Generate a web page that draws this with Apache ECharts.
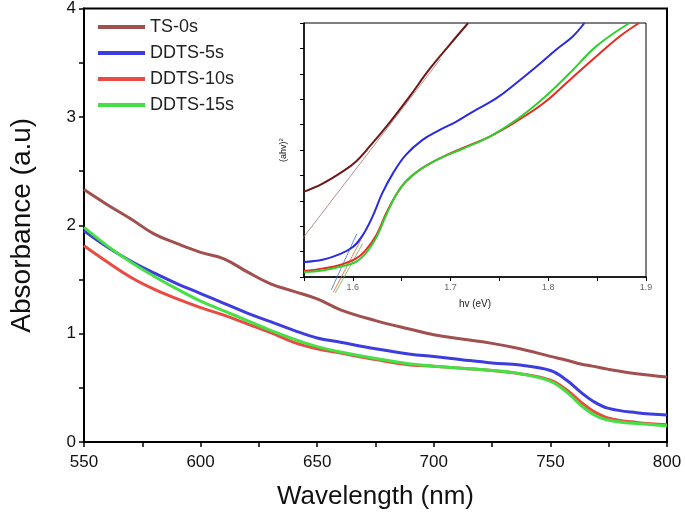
<!DOCTYPE html>
<html><head><meta charset="utf-8">
<script src="https://cdn.jsdelivr.net/npm/echarts@6/dist/echarts.min.js"></script>
<style>html,body{margin:0;padding:0;background:#fff}#c{width:685px;height:517px}</style>
</head><body><div id="c"></div>
<script>
// ---- main chart data ----
const wavelength = [550,560,570,580,590,600,610,620,630,640,650,660,675,690,700,712,725,737,750,757,763,768,775,787,800];
const ts0   = [2.33,2.19,2.06,1.92,1.83,1.75,1.69,1.57,1.46,1.39,1.32,1.22,1.12,1.04,0.99,0.95,0.91,0.86,0.79,0.755,0.72,0.70,0.67,0.63,0.60];
const ddts5 = [1.95,1.80,1.67,1.56,1.46,1.37,1.28,1.19,1.11,1.03,0.96,0.92,0.86,0.81,0.79,0.76,0.73,0.71,0.66,0.57,0.46,0.38,0.31,0.27,0.25];
const ddts10= [1.81,1.66,1.52,1.41,1.32,1.24,1.17,1.09,1.01,0.92,0.86,0.82,0.76,0.71,0.70,0.68,0.66,0.63,0.57,0.48,0.37,0.29,0.22,0.18,0.16];
const ddts15= [1.98,1.81,1.66,1.53,1.41,1.30,1.21,1.12,1.03,0.95,0.88,0.83,0.77,0.72,0.70,0.68,0.66,0.63,0.56,0.46,0.34,0.26,0.20,0.17,0.15];
const seriesNames = ['TS-0s','DDTS-5s','DDTS-10s','DDTS-15s'];
const xTicks = [550,600,650,700,750,800];

// ---- inset data (hv in eV, (ahv)^2 arbitrary units) ----
const hvTS  = [1.55,1.569,1.589,1.603,1.617,1.637,1.658,1.678,1.699,1.718];
const vTS   = [3.36,3.68,4.14,4.54,5.13,6.05,7.10,8.16,9.14,10.0];
const hv5   = [1.55,1.569,1.586,1.600,1.610,1.620,1.630,1.641,1.654,1.671,1.689,1.706,1.726,1.747,1.767,1.788,1.808,1.825,1.837];
const v5    = [0.59,0.68,0.89,1.18,1.64,2.37,3.29,4.08,4.80,5.39,5.79,6.12,6.58,7.04,7.63,8.29,8.95,9.47,10.0];
const hv10  = [1.55,1.569,1.586,1.603,1.613,1.624,1.634,1.644,1.654,1.668,1.689,1.712,1.740,1.767,1.795,1.822,1.849,1.873,1.893];
const v10   = [0.24,0.33,0.46,0.72,1.05,1.64,2.50,3.22,3.75,4.21,4.67,5.07,5.53,6.12,6.84,7.76,8.68,9.47,10.0];
const hv15  = [1.55,1.569,1.586,1.603,1.613,1.624,1.634,1.644,1.654,1.668,1.689,1.712,1.740,1.767,1.795,1.822,1.849,1.883];
const v15   = [0.20,0.26,0.39,0.59,0.92,1.55,2.43,3.22,3.75,4.21,4.67,5.04,5.53,6.18,7.04,8.03,9.08,10.0];
const tanTS = [[1.542,1.19],[1.69,8.6]];
const tan5  = [[1.578,-0.5],[1.604,1.7]];
const tan10 = [[1.580,-0.6],[1.608,1.45]];
const tan15 = [[1.582,-0.63],[1.610,1.32]];

const colors = ['#a0504e','#3c3ce0','#ea4a42','#45e045'];
const font = 'Liberation Sans, Arial, sans-serif';
const zip = (a,b) => a.map((x,i)=>[x,b[i]]);

const mainSeries = [ts0,ddts5,ddts10,ddts15].map((d,i)=>({
  name: seriesNames[i], type:'line', xAxisIndex:0, yAxisIndex:0,
  data: zip(wavelength,d), smooth:0.4, symbol:'none',
  lineStyle:{color:colors[i], width:3}, itemStyle:{color:colors[i]}, z: 3
}));
const insetCols = ['#6e1818','#2a2ae0','#e82a20','#30d030'];
const insetSeries = [[hvTS,vTS],[hv5,v5],[hv10,v10],[hv15,v15]].map((p,i)=>({
  name:'inset'+i, type:'line', xAxisIndex:1, yAxisIndex:1,
  data: zip(p[0],p[1]), smooth:0.4, symbol:'none',
  lineStyle:{color:insetCols[i], width:2}, z: 5
}));
const tanCols = ['#a87070','#4a6ad8','#d86030','#70b050'];
const tanSeries = [tanTS,tan5,tan10,tan15].map((d,i)=>({
  name:'tan'+i, type:'line', xAxisIndex:1, yAxisIndex:1, clip:false,
  data:d, symbol:'none', lineStyle:{color:tanCols[i], width:0.8}, z: 4
}));

const chart = echarts.init(document.getElementById('c'), null, {renderer:'canvas'});
chart.setOption({
  animation:false,
  backgroundColor:'#fff',
  textStyle:{fontFamily:font},
  grid:[
    {left:82, right:18, top:8, bottom:75, show:true, borderColor:'#000', borderWidth:2, backgroundColor:'transparent'},
    {left:304, right:39, top:23, bottom:240, show:true, borderColor:'#000', borderWidth:1, backgroundColor:'transparent'}
  ],
  legend:{
    data: seriesNames, orient:'vertical', left:93, top:12, itemWidth:47, itemHeight:4, icon:'rect',
    itemGap:6, textStyle:{fontSize:18, fontFamily:font, color:'#222', lineHeight:20}
  },
  xAxis:[
    {type:'value', gridIndex:0, min:550, max:800, interval:50,
     name:'Wavelength (nm)', nameLocation:'middle', nameGap:42,
     nameTextStyle:{fontSize:26, color:'#111', fontFamily:font},
     axisLine:{lineStyle:{color:'#000', width:2}},
     axisTick:{show:true, inside:false, length:5, lineStyle:{color:'#000', width:1.5}},
     minorTick:{show:true, splitNumber:2, length:5, lineStyle:{color:'#000', width:1.5}},
     axisLabel:{fontSize:17, color:'#111', margin:12, fontFamily:font,
       formatter: v => xTicks.includes(v) ? String(v) : ''},
     splitLine:{show:false}},
    {type:'value', gridIndex:1, min:1.55, max:1.9, interval:0.05,
     name:'hv (eV)', nameLocation:'middle', nameGap:22,
     nameTextStyle:{fontSize:10, color:'#222', fontFamily:font},
     axisLine:{lineStyle:{color:'#000', width:1.5}},
     axisTick:{show:true, inside:false, length:4, lineStyle:{color:'#000', width:1}},
     axisLabel:{fontSize:9, color:'#666', margin:6, fontFamily:font,
       formatter: v => (Math.abs(v*10 - Math.round(v*10)) < 1e-6) ? v.toFixed(1) : ''},
     splitLine:{show:false}}
  ],
  yAxis:[
    {type:'value', gridIndex:0, min:0, max:4, interval:1,
     name:'Absorbance (a.u)', nameLocation:'middle', nameGap:48,
     nameTextStyle:{fontSize:28, color:'#111', fontFamily:font},
     axisLine:{lineStyle:{color:'#000', width:2}},
     axisTick:{show:true, inside:false, length:5, lineStyle:{color:'#000', width:1.5}},
     minorTick:{show:true, splitNumber:2, length:5, lineStyle:{color:'#000', width:1.5}},
     axisLabel:{fontSize:17, color:'#111', margin:8, fontFamily:font},
     splitLine:{show:false}},
    {type:'value', gridIndex:1, min:0, max:10, interval:1,
     name:'(ahv){s|2}', nameLocation:'middle', nameGap:14,
     nameTextStyle:{fontSize:9, color:'#222', fontFamily:font,
       rich:{s:{fontSize:6, verticalAlign:'top', padding:[0,0,6,0]}}},
     axisLine:{lineStyle:{color:'#000', width:1.5}},
     axisTick:{show:true, inside:false, length:4, lineStyle:{color:'#000', width:1}},
     axisLabel:{show:false},
     splitLine:{show:false}}
  ],
  series:[...mainSeries, ...tanSeries, ...insetSeries]
});
</script></body></html>
